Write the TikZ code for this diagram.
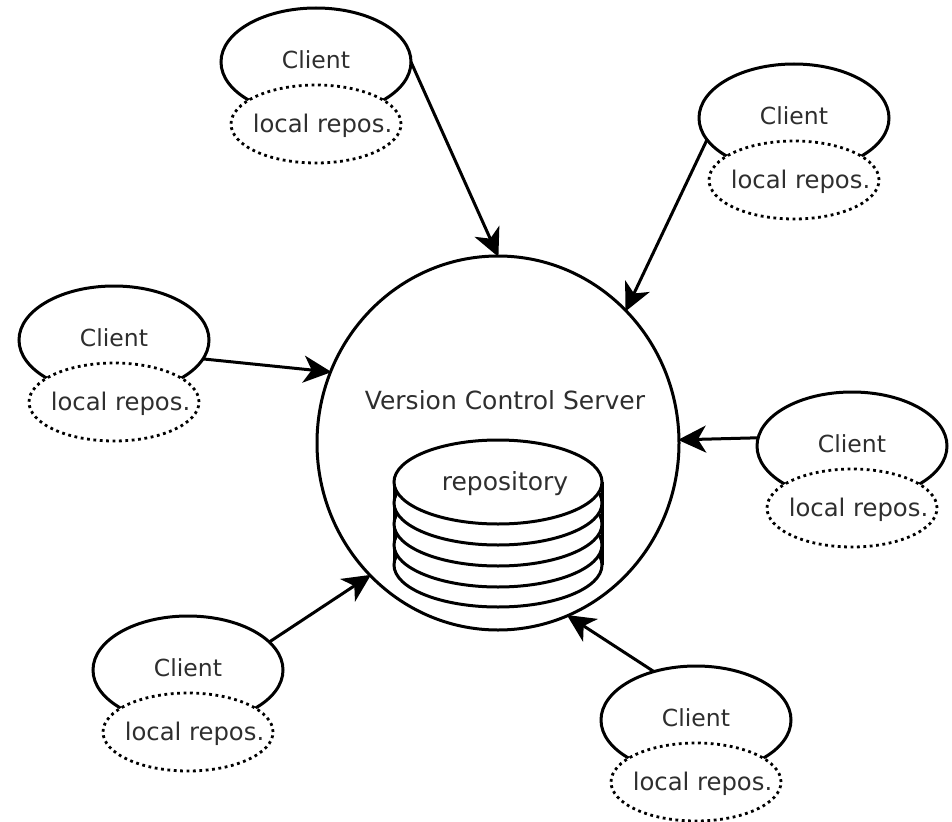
\documentclass[tikz,border=0pt]{standalone}
\usepackage{fontspec}
\setmainfont{DejaVu Sans}
\usetikzlibrary{shapes.geometric,arrows.meta}
\tikzset{
  ink/.style={line width=3pt,black},
  clientshape/.style={ellipse,draw,ink,fill=white,minimum width=190pt,minimum height=108pt,inner sep=0pt,outer sep=0pt},
  localshape/.style={ellipse,draw,line width=2.8pt,dash pattern=on 2.8pt off 3.6pt,fill=white,minimum width=170pt,minimum height=78pt,inner sep=0pt,outer sep=0pt},
  serverbody/.style={ellipse,draw,ink,minimum width=362pt,minimum height=374pt,inner sep=0pt,outer sep=0pt},
  disk/.style={ellipse,draw,ink,fill=white,minimum width=208pt,minimum height=84pt,inner sep=0pt,outer sep=0pt},
  lbl/.style={inner sep=0pt,text=black!82,font=\fontsize{23.5pt}{28pt}\selectfont},
  biglbl/.style={lbl,font=\fontsize{25pt}{30pt}\selectfont},
  midlbl/.style={lbl,font=\fontsize{24.3pt}{29pt}\selectfont},
  flow/.style={ink,-{Stealth[length=28pt,width=27pt,inset=8pt]},shorten >=-1pt}
}
\newcommand{\mkclient}[3]{%
  \node[clientshape] (#1) at (#2,#3) {};
  \node[localshape] (#1l) at (#2,#3+62) {};
  \node[lbl] (#1t) at (#2,#3-2) {Client};
  \node[midlbl] (#1r) at (#2+6.5,#3+64) {local repos.};
}
\begin{document}
\begin{tikzpicture}[x=1pt,y=-1pt]
\useasboundingbox (0,0) rectangle (952,821);
\fill[white] (0,0) rectangle (952,821);
\node[serverbody] (server) at (498,443) {};
\draw[ink] (394,482) -- (394,565) (602,482) -- (602,565);
\node[disk] (d5) at (498,565) {};
\node[disk] (d4) at (498,545) {};
\node[disk] (d3) at (498,524) {};
\node[disk] (d2) at (498,503) {};
\node[disk] (d1) at (498,482) {};
\node[biglbl] (srv) at (505,400) {Version Control Server};
\node[biglbl] (rep) at (505,484) {repository};
\mkclient{a}{316}{62}
\mkclient{b}{794}{118}
\mkclient{c}{114}{340}
\mkclient{d}{852}{446}
\mkclient{e}{188}{670}
\mkclient{f}{696}{720}
\draw[flow] (a.0) -- (server.90);
\draw[flow] (b.194) -- (server.46);
\draw[flow] (c.-12) -- (server.157);
\draw[flow] (d.175) -- (server.1);
\draw[flow] (e.19) -- (server.226);
\draw[flow] (f.131) -- (server.292.5);
\end{tikzpicture}
\end{document}
